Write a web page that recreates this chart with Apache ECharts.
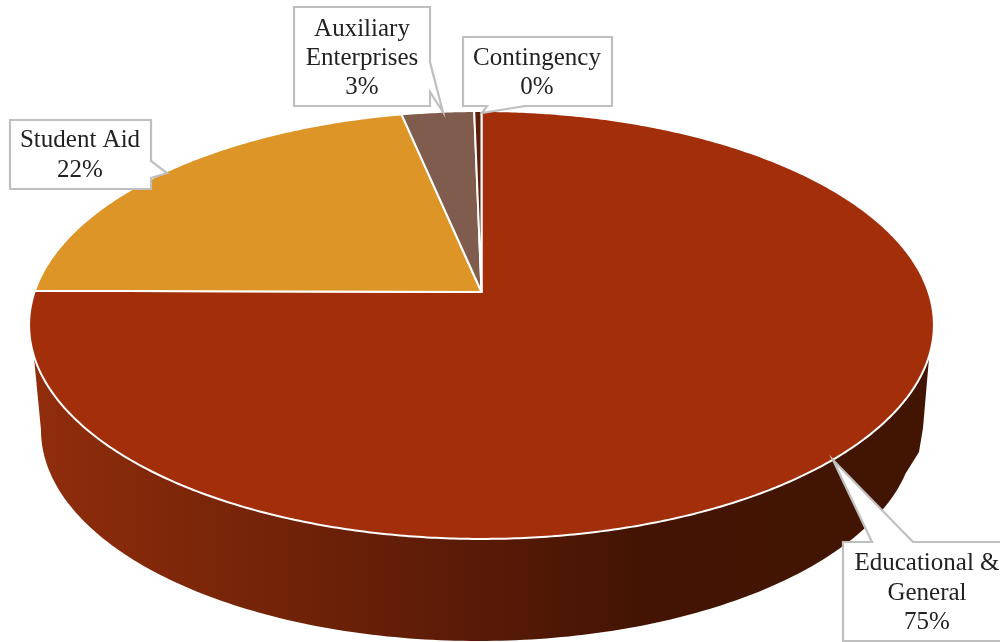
<!DOCTYPE html>
<html>
<head>
<meta charset="utf-8">
<style>html,body{margin:0;padding:0;background:#fff}#c{width:1000px;height:642px}</style>
<script src="https://cdn.jsdelivr.net/npm/echarts@6/dist/echarts.min.js"></script>
</head>
<body>
<div id="c"></div>
<script>
// ---- data ----
var categories = ['Educational &\nGeneral', 'Student Aid', 'Auxiliary\nEnterprises', 'Contingency'];
var shares = [75.1, 21.6, 3.0, 0.3];

// ---- style / layout ----
var sliceColors = ['#A32E0A', '#DC9526', '#7F5C4D', '#5E1E0C'];
var FONT = '25px "Liberation Serif", serif';
var TEXT = '#222222';
var BORDER = '#bfbfbf';
// perspective disc: apex position, horizontal radius, vertical radius, tilt
var disc = {cx: 481.5, cy: 292, a: 447, b: 208.9, k: -0.154};
var rimTop = {cx: 481.5, cy: 325, rx: 451.5, ry: 214};
var rimBottom = {cx: 478, cy: 430, rx: 437, ry: 211};
var rightShoulder = [[919, 452], [923, 428]];
var callouts = [
  {cx: 927, ys: [563, 593, 622], outline: [[843,542],[872,542],[833,460],[913,542],[1012,542],[1012,641],[843,641]]},
  {cx: 80, ys: [140, 170], outline: [[10,120],[151,120],[151,161],[167,173],[151,178],[151,189],[10,189]]},
  {cx: 362, ys: [29, 58, 87], outline: [[294,7],[430,7],[430,62],[443,112],[430,92],[430,106],[294,106]]},
  {cx: 537, ys: [58, 87], outline: [[463,37],[612,37],[612,106],[525,106],[482,113],[487,106],[463,106]]}
];

function project(deg) {
  var r = deg * Math.PI / 180, x = Math.sin(r), y = -Math.cos(r), d = 1 + disc.k * y;
  return [disc.cx + disc.a * x / d, disc.cy + disc.b * y / d];
}
function rim(e, deg) {
  var r = deg * Math.PI / 180;
  return [e.cx + e.rx * Math.cos(r), e.cy + e.ry * Math.sin(r)];
}
var total = shares.reduce(function (s, v) { return s + v; }, 0);
var starts = [];
shares.reduce(function (s, v, i) { starts[i] = s; return s + v; }, 0);

var wallData = [[total]];
var sliceData = shares.map(function (v, i) { return [v, starts[i], i]; });
var labelData = shares.map(function (v, i) { return [v, i]; });

var option = {
  animation: false,
  backgroundColor: '#fff',
  tooltip: {show: false},
  series: [
    {
      type: 'custom', coordinateSystem: 'none', silent: true, z: 1,
      data: wallData,
      renderItem: function () {
        var pts = [], d;
        for (d = 7; d <= 173; d += 1) pts.push(rim(rimTop, d));
        for (d = 180; d >= 12; d -= 1) pts.push(rim(rimBottom, d));
        pts = pts.concat(rightShoulder);
        return {
          type: 'polygon', shape: {points: pts},
          style: {
            fill: new echarts.graphic.LinearGradient(0, 0, 1, 0, [
              {offset: 0, color: '#902D0C'},
              {offset: 0.2, color: '#7A2608'},
              {offset: 0.45, color: '#5E1C07'},
              {offset: 0.68, color: '#431403'},
              {offset: 1, color: '#421503'}
            ]),
            stroke: 'none'
          }
        };
      }
    },
    {
      type: 'custom', coordinateSystem: 'none', silent: true, z: 2,
      data: sliceData,
      renderItem: function (params, api) {
        var v = api.value(0), s = api.value(1), i = api.value(2);
        var a0 = s / total * 360, a1 = (s + v) / total * 360;
        var pts = [[disc.cx, disc.cy]];
        var n = Math.max(2, Math.ceil((a1 - a0) * 2));
        for (var j = 0; j <= n; j++) pts.push(project(a0 + (a1 - a0) * j / n));
        return {
          type: 'polygon', shape: {points: pts},
          style: {fill: sliceColors[i], stroke: '#fff', lineWidth: 2, lineJoin: 'round'}
        };
      }
    },
    {
      type: 'custom', coordinateSystem: 'none', silent: true, z: 3,
      data: labelData,
      renderItem: function (params, api) {
        var v = api.value(0), i = api.value(1), c = callouts[i];
        var lines = categories[i].split('\n').concat([Math.round(v / total * 100) + '%']);
        var kids = [{
          type: 'polygon', shape: {points: c.outline},
          style: {fill: '#fff', stroke: BORDER, lineWidth: 2.2, lineJoin: 'miter'}
        }];
        lines.forEach(function (t, k) {
          kids.push({
            type: 'text', x: c.cx, y: c.ys[k],
            style: {text: t, font: FONT, fill: TEXT, align: 'center', verticalAlign: 'middle'}
          });
        });
        return {type: 'group', children: kids};
      }
    }
  ]
};
echarts.init(document.getElementById('c'), null, {renderer: 'canvas'}).setOption(option);
</script>
</body>
</html>
